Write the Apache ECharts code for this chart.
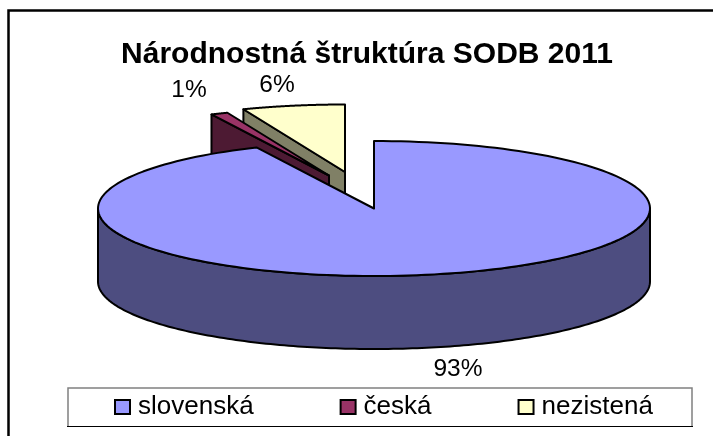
<!DOCTYPE html>
<html><head><meta charset="utf-8">
<style>html,body{margin:0;padding:0;background:#fff}#c{width:713px;height:436px}</style>
<script src="https://cdn.jsdelivr.net/npm/echarts@6/dist/echarts.min.js"></script>
</head><body><div id="c"></div>
<script>
const titleText = 'Národnostná štruktúra SODB 2011';
const categories = ['slovenská', 'česká', 'nezistená'];
const shares = [93, 1, 6];
const topColors = ['#9999FF', '#993366', '#FFFFCC'];
const sideColors = ['#4D4D80', '#4D1A33', '#808066'];

// layout of the tilted pie (not data)
const pie = {cx: 374, cy: 208.5, rx: 276, ry: 67.5, depth: 73};
const offsets = [[0, 0], [-45, -33], [-29, -36.5]];
const labelPos = [[458, 369], [189, 90], [277, 85]];
const sliceZ = [12, 11, 10];
const FONT = '"Liberation Sans", Arial, sans-serif';
const total = shares.reduce((a, b) => a + b, 0);

function makeRender(idx) {
  return function (params, api) {
    const value = api.value(0);
    let before = 0;
    for (let i = 0; i < idx; i++) before += shares[i];
    const a0 = before / total * 2 * Math.PI;
    const a1 = a0 + value / total * 2 * Math.PI;
    const ox = pie.cx + offsets[idx][0], oy = pie.cy + offsets[idx][1];
    const P = (a, d) => [ox + pie.rx * Math.sin(a), oy - pie.ry * Math.cos(a) + (d || 0)];
    const base = {stroke: '#000', lineWidth: 2, lineJoin: 'round'};
    const kids = [];
    const poly = (pts, fill) => kids.push({type: 'polygon', shape: {points: pts}, style: Object.assign({fill}, base)});
    const N = 180;
    // side wall of the outer rim: the front half only
    const w0 = Math.max(a0, Math.PI / 2), w1 = Math.min(a1, 3 * Math.PI / 2);
    if (w1 > w0) {
      const rim = [];
      for (let i = 0; i <= N; i++) rim.push(P(w0 + (w1 - w0) * i / N));
      for (let i = N; i >= 0; i--) rim.push(P(w0 + (w1 - w0) * i / N, pie.depth));
      poly(rim, sideColors[idx]);
    }
    // cut face of the exploded slices that faces the viewer
    if (idx > 0) {
      poly([[ox, oy], P(a0), P(a0, pie.depth), [ox, oy + pie.depth]], sideColors[idx]);
    }
    // top face
    const top = [[ox, oy]];
    for (let i = 0; i <= N; i++) top.push(P(a0 + (a1 - a0) * i / N));
    poly(top, topColors[idx]);
    // percentage label
    kids.push({type: 'text', style: {
      text: Math.round(value / total * 100) + '%',
      x: labelPos[idx][0], y: labelPos[idx][1], align: 'center', verticalAlign: 'middle',
      font: '24.5px ' + FONT, fill: '#000'
    }});
    return {type: 'group', children: kids};
  };
}

const chart = echarts.init(document.getElementById('c'), null, {renderer: 'canvas'});
chart.setOption({
  animation: false,
  backgroundColor: '#fff',
  title: {
    text: titleText, left: 362, top: 35, textAlign: 'center',
    textStyle: {fontFamily: FONT, fontSize: 30, fontWeight: 'bold', color: '#000'}
  },
  legend: {
    left: 109, top: 386, padding: [8, 5], itemGap: 86,
    itemWidth: 15, itemHeight: 14, selectedMode: false,
    data: categories.map((n, i) => ({
      name: n, icon: 'rect',
      itemStyle: {color: topColors[i], borderColor: '#000', borderWidth: 2}
    })),
    textStyle: {fontFamily: FONT, fontSize: 26, color: '#000', padding: [0, 0, 5, 3]}
  },
  graphic: [
    {type: 'polyline', silent: true, z: -1, shape: {points: [[8.5, 436], [8.5, 10.5], [713, 10.5]]},
      style: {stroke: '#000', lineWidth: 2.5, fill: null}},
    {type: 'polyline', silent: true, z: -1, shape: {points: [[68, 426], [68, 388], [692, 388], [692, 426]]},
      style: {stroke: '#808080', lineWidth: 1.5, fill: null}},
    {type: 'line', silent: true, z: -1, shape: {x1: 67, y1: 426.5, x2: 693, y2: 426.5},
      style: {stroke: '#000', lineWidth: 1}}
  ],
  series: categories.map((n, i) => ({
    type: 'custom', name: n, coordinateSystem: 'none', silent: true,
    z: sliceZ[i],
    itemStyle: {color: topColors[i]},
    data: [[shares[i]]],
    renderItem: makeRender(i)
  }))
});
</script></body></html>
